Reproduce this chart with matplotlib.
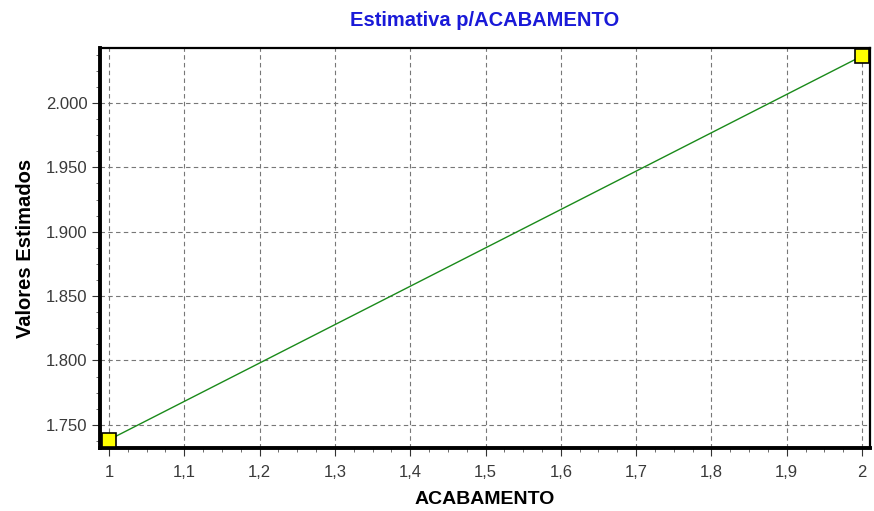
import matplotlib
matplotlib.use("Agg")
import matplotlib.pyplot as plt
from matplotlib.ticker import FuncFormatter, MultipleLocator

plt.rcParams['font.family'] = ['Liberation Sans', 'DejaVu Sans']

x_vals = [1, 2]
y_vals = [1.7384, 2.0365]
title = "Estimativa p/ACABAMENTO"
xlabel = "ACABAMENTO"
ylabel = "Valores Estimados"

fig = plt.figure(figsize=(8.74, 5.11), dpi=100)
ax = fig.add_axes([0.1144, 0.1233, 0.8810, 0.7827])

ax.plot(x_vals, y_vals, color="#1a8a1a", lw=1.0, zorder=3)
ax.plot(x_vals, y_vals, linestyle="none", marker="s", markersize=10,
        markerfacecolor="#ffff00", markeredgecolor="black", markeredgewidth=1.2,
        zorder=4, clip_on=False)

ax.set_xlim(0.988, 2.0106)
ax.set_ylim(1.732, 2.0427)

ax.xaxis.set_major_locator(MultipleLocator(0.1))
ax.xaxis.set_minor_locator(MultipleLocator(0.025))
ax.yaxis.set_major_locator(MultipleLocator(0.05))
ax.yaxis.set_minor_locator(MultipleLocator(0.0125))

def xfmt(v, pos):
    s = f"{v:.1f}"
    if s.endswith(".0"):
        s = s[:-2]
    return s.replace(".", ",")

ax.xaxis.set_major_formatter(FuncFormatter(xfmt))
ax.yaxis.set_major_formatter(FuncFormatter(lambda v, p: f"{v:.3f}"))

ax.grid(True, which="major", linestyle=(0, (4, 3)), color="#777777", lw=0.8)
ax.tick_params(which="major", direction="out", length=6, width=0.8,
               colors="#333333", labelcolor="#3a3a3a", labelsize=12)
ax.tick_params(axis="y", which="major", pad=3)
ax.tick_params(axis="x", which="major", pad=6)
ax.tick_params(which="minor", direction="out", length=3, width=0.6, colors="#555555")

for side in ["left", "bottom"]:
    ax.spines[side].set_linewidth(2.8)
for side in ["top", "right"]:
    ax.spines[side].set_linewidth(1.6)

ax.set_title(title, color="#1a1ad8", fontsize=14.5, fontweight="bold", pad=16)
ax.set_xlabel(xlabel, fontsize=14, fontweight="bold", labelpad=8)
ax.set_ylabel(ylabel, fontsize=14.5, fontweight="bold", labelpad=8)

fig.savefig("out.png", dpi=100)
